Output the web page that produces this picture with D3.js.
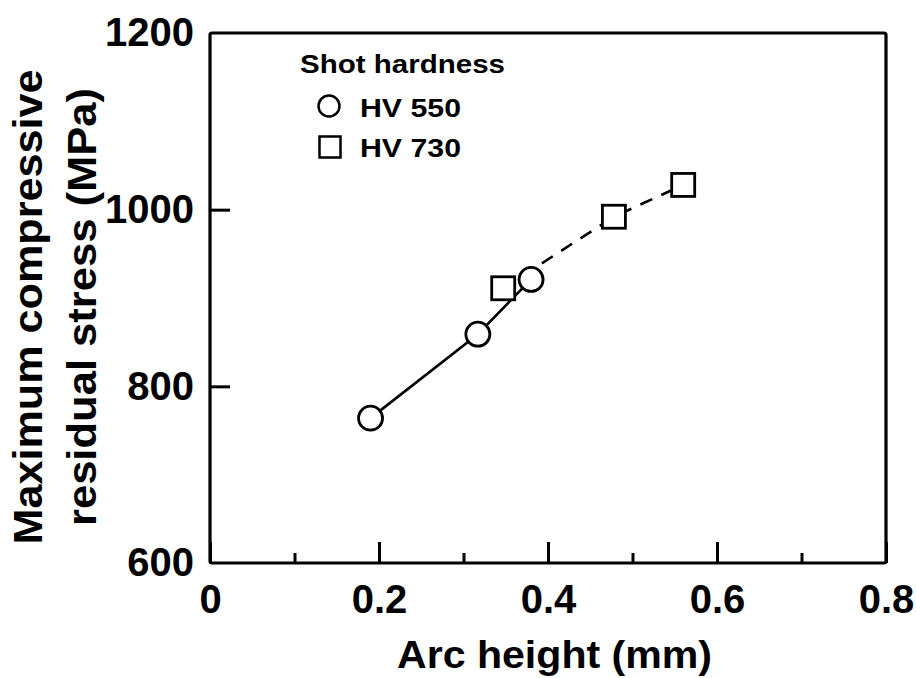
<!DOCTYPE html>
<html>
<head>
<meta charset="utf-8">
<script src="https://cdn.jsdelivr.net/npm/d3@7"></script>
<style>
  html, body { margin: 0; padding: 0; background: #fff; }
  text { font-family: "Liberation Sans", Arial, Helvetica, sans-serif; font-weight: bold; fill: #000; }
</style>
</head>
<body>
<svg id="chart" width="916" height="678"></svg>
<script>
// ---- data ----
const hv550X = [0.19, 0.317, 0.38];
const hv550Y = [764, 859, 921];
const hv730X = [0.347, 0.478, 0.56];
const hv730Y = [911, 992, 1028];
const xMajorTicks = [0, 0.2, 0.4, 0.6, 0.8];
const xMinorTicks = [0.1, 0.3, 0.5, 0.7];
const yTickLabels = [600, 800, 1000, 1200];
const yInnerTicks = [800, 1000];
const seriesNames = ["HV 550", "HV 730"];
const legendTitle = "Shot hardness";
const xTitle = "Arc height (mm)";
const yTitleLines = ["Maximum compressive", "residual stress (MPa)"];

const svg = d3.select("#chart");
const x = d3.scaleLinear().domain([0, 0.8]).range([210, 886]);
const y = d3.scaleLinear().domain([600, 1200]).range([563, 33]);

// x axis: major ticks (inward) with labels
const gx = svg.append("g").attr("transform", `translate(0,${y(600)})`)
  .call(d3.axisBottom(x).tickValues(xMajorTicks).tickSize(-21).tickPadding(22)
    .tickFormat(d => d === 0 ? "0" : d3.format(".1f")(d)));
gx.select(".domain").remove();
gx.selectAll(".tick line").attr("stroke", "#000").attr("stroke-width", 3);
gx.selectAll(".tick text").style("font-size", "40px").attr("fill", "#000");

// x axis minor ticks
const gxm = svg.append("g").attr("transform", `translate(0,${y(600)})`)
  .call(d3.axisBottom(x).tickValues(xMinorTicks).tickSize(-10).tickFormat(""));
gxm.select(".domain").remove();
gxm.selectAll(".tick line").attr("stroke", "#000").attr("stroke-width", 3);

// y axis labels
const gy = svg.append("g").attr("transform", `translate(${x(0)},0)`)
  .call(d3.axisLeft(y).tickValues(yTickLabels).tickSize(0).tickPadding(16).tickFormat(d3.format("d")));
gy.select(".domain").remove();
gy.selectAll(".tick line").remove();
gy.selectAll(".tick text").style("font-size", "40px").attr("fill", "#000");

// y axis inward ticks
const gyt = svg.append("g").attr("transform", `translate(${x(0)},0)`)
  .call(d3.axisLeft(y).tickValues(yInnerTicks).tickSize(-20).tickFormat(""));
gyt.select(".domain").remove();
gyt.selectAll(".tick line").attr("stroke", "#000").attr("stroke-width", 3);

// frame
svg.append("rect")
  .attr("x", x(0)).attr("y", y(1200))
  .attr("width", x(0.8) - x(0)).attr("height", y(600) - y(1200))
  .attr("fill", "none").attr("stroke", "#000").attr("stroke-width", 3.2)
  .attr("rx", 2);

// lines
const line = d3.line().x(d => x(d[0])).y(d => y(d[1]));
const s550 = hv550X.map((v, i) => [v, hv550Y[i]]);
const s730 = hv730X.map((v, i) => [v, hv730Y[i]]);

svg.append("path").datum(s730).attr("d", line)
  .attr("fill", "none").attr("stroke", "#000").attr("stroke-width", 2.6)
  .attr("stroke-dasharray", "13,10");
svg.append("path").datum(s550).attr("d", line)
  .attr("fill", "none").attr("stroke", "#000").attr("stroke-width", 2.6);

// markers
svg.append("g").selectAll("rect").data(s730).join("rect")
  .attr("x", d => x(d[0]) - 11.5).attr("y", d => y(d[1]) - 11.5)
  .attr("width", 23).attr("height", 23)
  .attr("fill", "#fff").attr("stroke", "#000").attr("stroke-width", 2.8);
svg.append("g").selectAll("circle").data(s550).join("circle")
  .attr("cx", d => x(d[0])).attr("cy", d => y(d[1])).attr("r", 12)
  .attr("fill", "#fff").attr("stroke", "#000").attr("stroke-width", 2.8);

// legend
const lg = svg.append("g");
lg.append("text").attr("x", 300).attr("y", 73).style("font-size", "26px")
  .attr("textLength", 205).attr("lengthAdjust", "spacingAndGlyphs").text(legendTitle);
lg.append("circle").attr("cx", 329).attr("cy", 106).attr("r", 10.5)
  .attr("fill", "#fff").attr("stroke", "#000").attr("stroke-width", 2.5);
lg.append("rect").attr("x", 330 - 10.5).attr("y", 147 - 10.5).attr("width", 21).attr("height", 21)
  .attr("fill", "#fff").attr("stroke", "#000").attr("stroke-width", 2.5);
lg.append("text").attr("x", 360).attr("y", 117).style("font-size", "26px")
  .attr("textLength", 101).attr("lengthAdjust", "spacingAndGlyphs").text(seriesNames[0]);
lg.append("text").attr("x", 360).attr("y", 157).style("font-size", "26px")
  .attr("textLength", 101).attr("lengthAdjust", "spacingAndGlyphs").text(seriesNames[1]);

// axis titles
svg.append("text").attr("x", 397).attr("y", 668).style("font-size", "39px")
  .attr("textLength", 315).attr("lengthAdjust", "spacingAndGlyphs").text(xTitle);

const yc = 307;
svg.append("text").attr("transform", `translate(42,${yc}) rotate(-90)`)
  .attr("text-anchor", "middle").style("font-size", "41px")
  .attr("textLength", 475).attr("lengthAdjust", "spacingAndGlyphs").text(yTitleLines[0]);
svg.append("text").attr("transform", `translate(96,${yc}) rotate(-90)`)
  .attr("text-anchor", "middle").style("font-size", "41px")
  .attr("textLength", 438).attr("lengthAdjust", "spacingAndGlyphs").text(yTitleLines[1]);
</script>
</body>
</html>
